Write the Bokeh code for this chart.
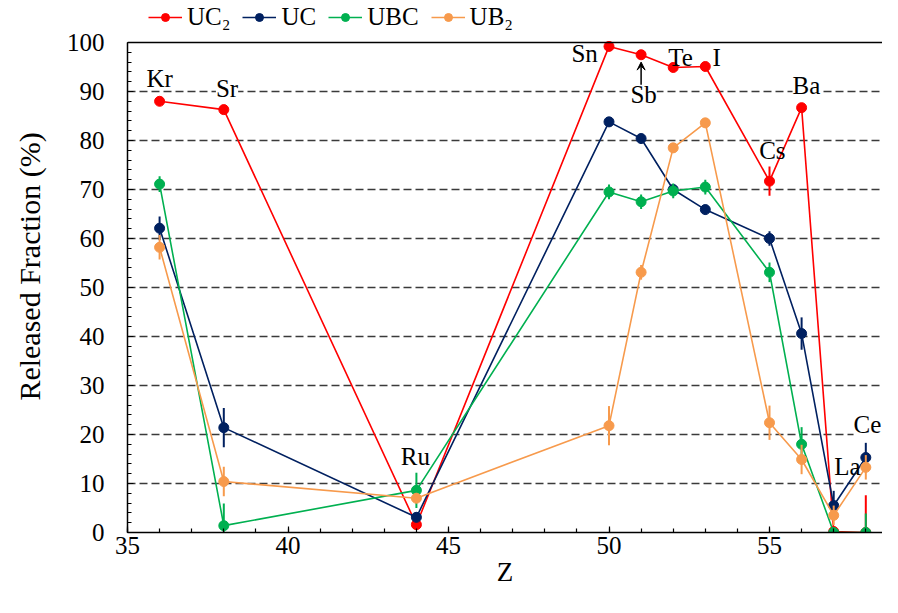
from bokeh.plotting import figure
from bokeh.models import (ColumnDataSource, Legend, LegendItem, Range1d, Span,
                          SingleIntervalTicker, LabelSet, Arrow, VeeHead)
from bokeh.embed import file_html
from bokeh.resources import INLINE

# ---- data ----
Z = [36, 38, 44, 50, 51, 52, 53, 55, 56, 57, 58]
elements = ["Kr", "Sr", "Ru", "Sn", "Sb", "Te", "I", "Cs", "Ba", "La", "Ce"]

uc2 = [88.0, 86.3, 1.6, 99.2, 97.5, 94.9, 95.1, 71.7, 86.7, 0.2, 0.0]
uc2_err = [0.8, 0.8, 1.0, 0.8, 0.8, 0.8, 0.8, 3.0, 0.8, 1.0, 7.6]

uc = [62.1, 21.4, 3.1, 83.8, 80.4, 70.0, 65.9, 60.0, 40.6, 5.5, 15.3]
uc_err = [2.4, 4.0, 1.0, 1.0, 1.0, 1.0, 1.0, 1.5, 3.3, 3.0, 3.0]

ubc = [71.1, 1.4, 8.6, 69.5, 67.5, 69.7, 70.5, 53.1, 18.0, 0.0, 0.0]
ubc_err = [1.6, 4.5, 3.6, 1.5, 1.5, 1.5, 1.5, 2.0, 3.5, 0.8, 3.9]

ub2 = [58.2, 10.4, 7.0, 21.8, 53.1, 78.5, 83.6, 22.4, 14.9, 3.5, 13.3]
ub2_err = [2.5, 3.0, 1.0, 4.0, 1.5, 1.0, 1.0, 3.5, 3.0, 2.0, 2.5]

series_names = ["UC\u2082", "UC", "UBC", "UB\u2082"]
series_vals = [uc2, uc, ubc, ub2]
series_errs = [uc2_err, uc_err, ubc_err, ub2_err]
series_colors = ["#FF0000", "#002060", "#00B050", "#F79A4C"]

# element annotation positions (data coords)
lab_x = [36.0, 38.1, 43.97, 49.24, 51.08, 52.23, 53.35, 55.09, 56.15, 57.43, 58.05]
lab_y = [92.7, 90.6, 15.5, 97.8, 89.4, 96.9, 96.9, 78.0, 91.2, 13.5, 22.0]
lab_bg = [False, True, False, False, True, False, False, False, True, False, True]

Y_MAX = 100
FONT = "Liberation Serif"

# y range extends above 100 to leave room for the legend strip
p = figure(width=882, height=597, output_backend="svg", toolbar_location=None,
           x_range=Range1d(35, 58.52), y_range=Range1d(0, 108.57),
           min_border_left=127, min_border_right=0, min_border_top=0,
           min_border_bottom=65)
p.outline_line_color = None
p.background_fill_color = "white"

# grid
p.xgrid.grid_line_color = None
p.ygrid.grid_line_color = "#3a3a3a"
p.ygrid.grid_line_dash = "8 4"
p.ygrid.grid_line_width = 1.5
p.ygrid.ticker = SingleIntervalTicker(interval=10)
p.ygrid.bounds = (0, 95)

# axes
p.xaxis.ticker = SingleIntervalTicker(interval=5, num_minor_ticks=5)
p.yaxis.ticker = SingleIntervalTicker(interval=10, num_minor_ticks=5)
p.yaxis.bounds = (0, Y_MAX)
for ax in (p.xaxis[0], p.yaxis[0]):
    ax.axis_line_color = "black"
    ax.axis_line_width = 1.5
    ax.major_tick_in = 6
    ax.major_tick_out = 0
    ax.minor_tick_in = 4
    ax.minor_tick_out = 0
    ax.major_tick_line_color = "black"
    ax.minor_tick_line_color = "black"
    ax.major_tick_line_width = 1.2
    ax.minor_tick_line_width = 1.2
    ax.major_label_text_font = FONT
    ax.major_label_text_font_size = "25px"
    ax.major_label_text_color = "black"
    ax.axis_label_text_font = FONT
    ax.axis_label_text_font_style = "normal"
    ax.axis_label_text_color = "black"
p.xaxis.axis_label = "Z"
p.xaxis.axis_label_text_font_size = "27px"
p.xaxis.major_label_standoff = 4
p.xaxis.axis_label_standoff = 0
p.yaxis.axis_label = "Released Fraction (%)"
p.yaxis.axis_label_text_font_size = "30px"
p.yaxis.major_label_standoff = 23
p.yaxis.axis_label_standoff = 18

# top frame line at 100 %
p.add_layout(Span(location=Y_MAX, dimension="width", line_color="black", line_width=1.5))

# series
items = []
for name, vals, errs, col in zip(series_names, series_vals, series_errs, series_colors):
    src = ColumnDataSource(dict(x=Z, y=vals,
                                lo=[v - e for v, e in zip(vals, errs)],
                                hi=[v + e for v, e in zip(vals, errs)]))
    ln = p.line("x", "y", source=src, line_color=col, line_width=1.6)
    p.segment(x0="x", y0="lo", x1="x", y1="hi", source=src, line_color=col, line_width=2)
    sc = p.scatter("x", "y", source=src, size=10, marker="circle",
                   fill_color=col, line_color=col)
    items.append(LegendItem(label=name, renderers=[ln, sc]))

legend = Legend(items=items, orientation="horizontal", location=(21, 501),
                label_text_font=FONT, label_text_font_size="25px",
                label_text_color="black", glyph_width=34, glyph_height=20,
                label_height=20, label_standoff=5, spacing=12, padding=0,
                margin=0, border_line_color=None, background_fill_alpha=0)
p.add_layout(legend, "center")

# element labels
bg_src = ColumnDataSource(dict(x=[x for x, b in zip(lab_x, lab_bg) if b],
                               y=[y for y, b in zip(lab_y, lab_bg) if b],
                               t=[t for t, b in zip(elements, lab_bg) if b]))
nb_src = ColumnDataSource(dict(x=[x for x, b in zip(lab_x, lab_bg) if not b],
                               y=[y for y, b in zip(lab_y, lab_bg) if not b],
                               t=[t for t, b in zip(elements, lab_bg) if not b]))
p.add_layout(LabelSet(x="x", y="y", text="t", source=bg_src, text_align="center",
                      text_baseline="middle", text_font=FONT, text_font_size="25px",
                      text_color="black", background_fill_color="white"))
p.add_layout(LabelSet(x="x", y="y", text="t", source=nb_src, text_align="center",
                      text_baseline="middle", text_font=FONT, text_font_size="25px",
                      text_color="black"))

# arrow from Sb label to its point
sb = elements.index("Sb")
p.add_layout(Arrow(end=VeeHead(size=8, line_color="black", fill_color="black"),
                   x_start=Z[sb], y_start=lab_y[sb] + 2.0,
                   x_end=Z[sb], y_end=uc2[sb] - 1.5,
                   line_color="black", line_width=1.5))

open("out.html", "w").write(file_html(p, INLINE))
